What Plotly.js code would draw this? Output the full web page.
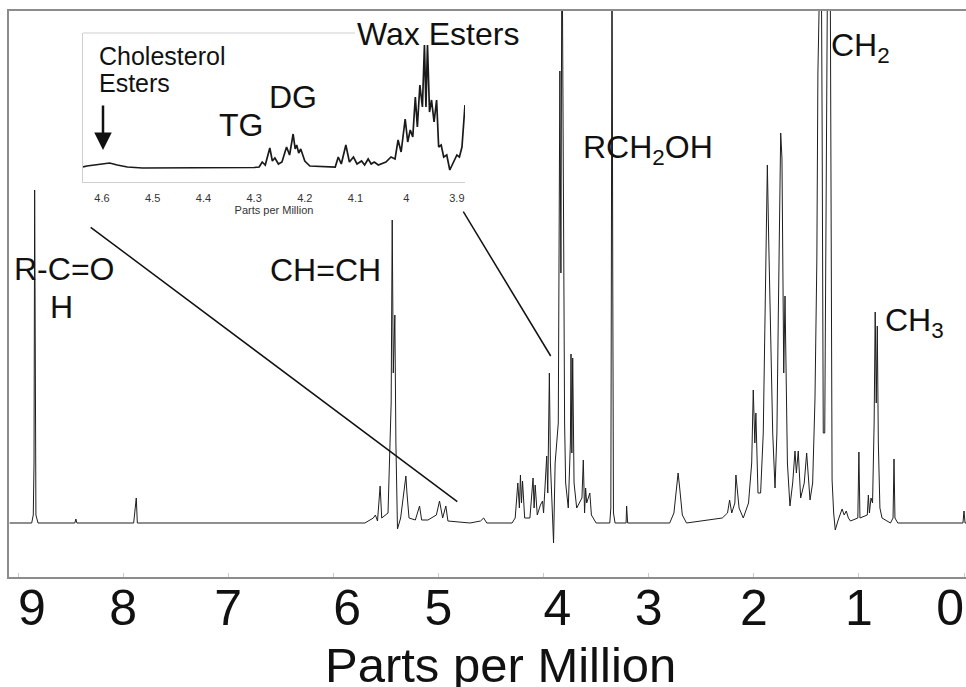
<!DOCTYPE html>
<html><head><meta charset="utf-8">
<script src="https://cdn.plot.ly/plotly-3.0.1.min.js"></script>
<style>html,body{margin:0;padding:0;background:#fff}#chart{width:966px;height:687px}</style>
</head><body><div id="chart"></div>
<script>
// ---- Main 1H NMR spectrum: vertices (ppm, intensity a.u.) ----
const mainPpm = [
  9.08, 8.87, 8.855, 8.848, 8.842, 8.836, 8.83, 8.81,
  8.46, 8.45, 8.44, 7.90, 7.885, 7.875, 7.865,
  5.70, 5.62, 5.60, 5.58, 5.555, 5.54, 5.48, 5.45, 5.44, 5.43, 5.415, 5.405, 5.39, 5.36,
  5.31, 5.30, 5.28, 5.22, 5.18, 5.16, 5.10, 5.02, 4.99, 4.96, 4.93, 4.91,
  4.70, 4.60, 4.57, 4.54, 4.30, 4.27, 4.245, 4.23, 4.22, 4.21, 4.20, 4.18,
  4.13, 4.10, 4.09, 4.08, 4.06, 4.03, 4.01, 4.00, 3.98, 3.97, 3.96, 3.945, 3.935,
  3.915, 3.905, 3.89, 3.86, 3.845, 3.835, 3.825, 3.815, 3.80, 3.79, 3.765,
  3.745, 3.739, 3.731, 3.723, 3.71, 3.685, 3.66, 3.635, 3.622, 3.61, 3.60, 3.59,
  3.575, 3.56, 3.545, 3.50, 3.37, 3.36, 3.355, 3.349, 3.342, 3.335, 3.32,
  3.215, 3.21, 3.20, 2.80, 2.76, 2.735, 2.72, 2.705, 2.68, 2.64,
  2.40, 2.30, 2.25, 2.23, 2.21, 2.18, 2.17, 2.155, 2.14, 2.10, 2.05, 2.02, 2.005,
  1.99, 1.98, 1.96, 1.935, 1.91, 1.893, 1.871, 1.858, 1.839, 1.82, 1.798,
  1.78, 1.767, 1.744, 1.732, 1.715, 1.703, 1.68, 1.656, 1.63, 1.608, 1.595, 1.577,
  1.554, 1.52, 1.497, 1.465, 1.44, 1.418, 1.40, 1.39, 1.377, 1.36, 1.35, 1.339,
  1.325, 1.31, 1.295, 1.275, 1.262, 1.255, 1.24, 1.225, 1.20, 1.16, 1.14, 1.12,
  1.10, 1.08, 1.01, 1.00, 0.99, 0.92, 0.91, 0.90, 0.885, 0.87, 0.855, 0.845,
  0.835, 0.825, 0.815, 0.80, 0.78, 0.70, 0.675, 0.666, 0.657, 0.63, 0.01, 0.0,
  -0.01, -0.02
];
const mainIntensity = [
  0, 0, 8, 60, 333, 60, 8, 0,
  0, 4, 0, 0, 13, 25, 0,
  0, 5, 8, 2, 37, 5, 10, 120, 303, 150, 208, 80, -6, 5,
  47, 30, 5, 3, 17, 3, 3, 8, 22, 5, 17, 2,
  0, 2, 5, 0, 0, 5, 40, 15, 48, 20, 42, 5,
  5, 45, 15, 38, 8, 18, 22, 10, 45, 67, 30, 150, 60,
  10, -20, 60, 100, 452, 250, 620, 375, 100, 40, 15,
  80, 169, 70, 165, 40, 15, 20, 25, 63, 10, 35, 20,
  25, 30, 8, 0, 0, 15, 250, 620, 250, 10, 0,
  0, 17, 0, 0, 10, 35, 50, 35, 8, 0,
  3, 5, 10, 23, 10, 20, 48, 30, 15, 5, 20, 60, 133,
  80, 110, 30, 30, 90, 213, 358, 283, 177, 90, 35,
  90, 205, 390, 365, 150, 227, 60, 17, 40, 72, 50, 72,
  25, 40, 70, 23, 40, 123, 263, 450, 620, 620, 400, 90,
  90, 400, 620, 620, 200, 43, 10, -7, 2, 14, 8, 12,
  5, 2, 5, 71, 5, 8, 28, 10, 25, 20, 100, 211,
  120, 197, 80, 15, 5, 0, 5, 64, 5, 0, 0, 12,
  0, 0
];

// ---- Inset (expanded 4.64 - 3.88 ppm) ----
const insetPpm = [
  4.6375, 4.63, 4.615, 4.60, 4.585, 4.57, 4.55, 4.52, 4.40, 4.30, 4.29,
  4.284, 4.278, 4.269, 4.264, 4.259, 4.252, 4.245, 4.236, 4.23, 4.223, 4.219,
  4.216, 4.212, 4.208, 4.20, 4.19, 4.14, 4.134, 4.128, 4.119, 4.112, 4.104,
  4.097, 4.088, 4.082, 4.075, 4.069, 4.063, 4.055, 4.04, 4.03, 4.022, 4.016,
  4.01, 4.002, 3.997, 3.992, 3.987, 3.982, 3.978, 3.973, 3.968, 3.964, 3.961,
  3.958, 3.954, 3.95, 3.945, 3.94, 3.936, 3.931, 3.926, 3.92, 3.914, 3.907,
  3.90, 3.895, 3.89, 3.884
];
const insetIntensity = [
  0, 1, 2, 3, 4, 2, 0, -1, -1, -0.5, 0,
  5, 2, 19, 6, 9, 3, 5, 20, 12, 33, 18,
  22, 14, 18, 6, 1, 0, 10, 3, 22, 5, 10,
  3, 6, 2, 8, 3, 5, 2, 5, 10, 8, 27,
  15, 48, 25, 37, 30, 70, 40, 82, 60, 122, 60,
  122, 55, 67, 45, 67, 20, 22, 10, 12, -3, 5,
  12, 10, 20, 62
];

const mainTickVals = [9, 8, 7, 6, 5, 4, 3, 2, 1, 0];
const mainTickText = ['\u20079', '8', '7', '\u20076', '5', '\u20074', '3', '2', '1', '0\u2007'];
const insetTickVals = [4.6, 4.5, 4.4, 4.3, 4.2, 4.1, 4.0, 3.9];
const axisTitle = 'Parts per Million';

// ---- labels (text) ----
const peakLabels = ['R-C=O', 'H', 'CH=CH', 'RCH<sub>2</sub>OH', 'CH<sub>2</sub>', 'CH<sub>3</sub>'];
const insetLabels = ['Cholesterol', 'Esters', 'TG', 'DG', 'Wax Esters'];

// ---- layout geometry (pixels) ----
const W = 966, H = 687, ML = 9, MR = 0, MT = 11, MB = 110;
const PW = W - ML - MR, PH = H - MT - MB;
const px = x => (x - ML) / PW;
const py = y => (H - MB - y) / PH;
const FONT = 'Liberation Sans, Arial, Helvetica, sans-serif';

const peakLabelPos = [[64, 269], [61, 307], [325, 270], [648, 150], [860, 47], [914, 323]];
const insetLabelPos = [[97, 56, 'left', 25], [97, 83, 'left', 25], [241, 125, 'center', 32], [293, 97, 'center', 32], [438, 34, 'center', 32]];

const annotations = [];
peakLabels.forEach((t, i) => annotations.push({
  text: t, xref: 'paper', yref: 'paper', x: px(peakLabelPos[i][0]), y: py(peakLabelPos[i][1]),
  xanchor: 'center', yanchor: 'middle', showarrow: false, font: {family: FONT, size: 32, color: '#111'}
}));
insetLabels.forEach((t, i) => annotations.push({
  text: t, xref: 'paper', yref: 'paper', x: px(insetLabelPos[i][0]), y: py(insetLabelPos[i][1]),
  xanchor: insetLabelPos[i][2], yanchor: 'middle', showarrow: false,
  font: {family: FONT, size: insetLabelPos[i][3], color: '#111'}
}));
// main axis title
annotations.push({
  text: axisTitle, xref: 'paper', yref: 'paper', x: px(500), y: py(665),
  xanchor: 'center', yanchor: 'middle', showarrow: false, font: {family: FONT, size: 49, color: '#111'}
});
// arrow pointing at the cholesterol ester position
annotations.push({
  text: '', xref: 'paper', yref: 'paper', x: px(103), y: py(150), ax: 0, ay: -46,
  showarrow: true, arrowhead: 2, arrowsize: 1.4, arrowwidth: 2.5, arrowcolor: '#111'
});

const shapes = [
  {type: 'line', xref: 'paper', yref: 'paper', x0: px(90.7), y0: py(227.3), x1: px(457.3), y1: py(501.7), line: {color: '#111', width: 1.5}},
  {type: 'line', xref: 'paper', yref: 'paper', x0: px(463.3), y0: py(211.7), x1: px(550.7), y1: py(356), line: {color: '#111', width: 1.5}},
  {type: 'line', xref: 'paper', yref: 'paper', x0: px(83), y0: py(33), x1: px(355), y1: py(33), line: {color: '#cfcfcf', width: 1}}
];

const traces = [
  {x: mainPpm, y: mainIntensity, type: 'scatter', mode: 'lines', xaxis: 'x', yaxis: 'y',
   line: {color: '#1e1e1e', width: 1}, hoverinfo: 'skip'},
  {x: insetPpm, y: insetIntensity, type: 'scatter', mode: 'lines', xaxis: 'x2', yaxis: 'y2',
   line: {color: '#1a1a1a', width: 1.7}, hoverinfo: 'skip'}
];

const layout = {
  width: W, height: H, margin: {l: ML, r: MR, t: MT, b: MB, pad: 0},
  paper_bgcolor: '#fff', plot_bgcolor: '#fff', showlegend: false,
  font: {family: FONT, color: '#111'},
  xaxis: {
    range: [9.086, -0.019], domain: [0, 1], anchor: 'y',
    tickmode: 'array', tickvals: mainTickVals, ticktext: mainTickText,
    ticks: 'inside', ticklen: 4, tickcolor: '#cccccc', tickwidth: 1,
    ticklabelstandoff: -14, ticklabeloverflow: 'allow',
    showline: true, linecolor: '#8c8c8c', linewidth: 2, mirror: true,
    showgrid: false, zeroline: false,
    tickfont: {family: FONT, size: 50, color: '#111'}
  },
  yaxis: {
    range: [-54, 512], domain: [0, 1], anchor: 'x',
    showline: true, linecolor: '#8c8c8c', linewidth: 2, mirror: false,
    showticklabels: false, ticks: '', showgrid: false, zeroline: false
  },
  xaxis2: {
    range: [4.6375, 3.884], domain: [px(83), px(465)], anchor: 'y2',
    tickmode: 'array', tickvals: insetTickVals, ticktext: insetTickVals.map(v => String(+v.toFixed(1))),
    ticks: '', showline: true, linecolor: '#cfcfcf', linewidth: 1,
    ticklabelstandoff: 6,
    showgrid: false, zeroline: false,
    tickfont: {family: FONT, size: 11, color: '#333'},
    title: {text: axisTitle, font: {family: FONT, size: 11, color: '#333'}, standoff: 2}
  },
  yaxis2: {
    range: [-15, 134], domain: [py(182), py(33)], anchor: 'x2',
    showline: true, linecolor: '#cfcfcf', linewidth: 1,
    showticklabels: false, ticks: '', showgrid: false, zeroline: false
  },
  annotations: annotations, shapes: shapes
};

Plotly.newPlot('chart', traces, layout, {staticPlot: true, displayModeBar: false});
</script>
</body></html>
